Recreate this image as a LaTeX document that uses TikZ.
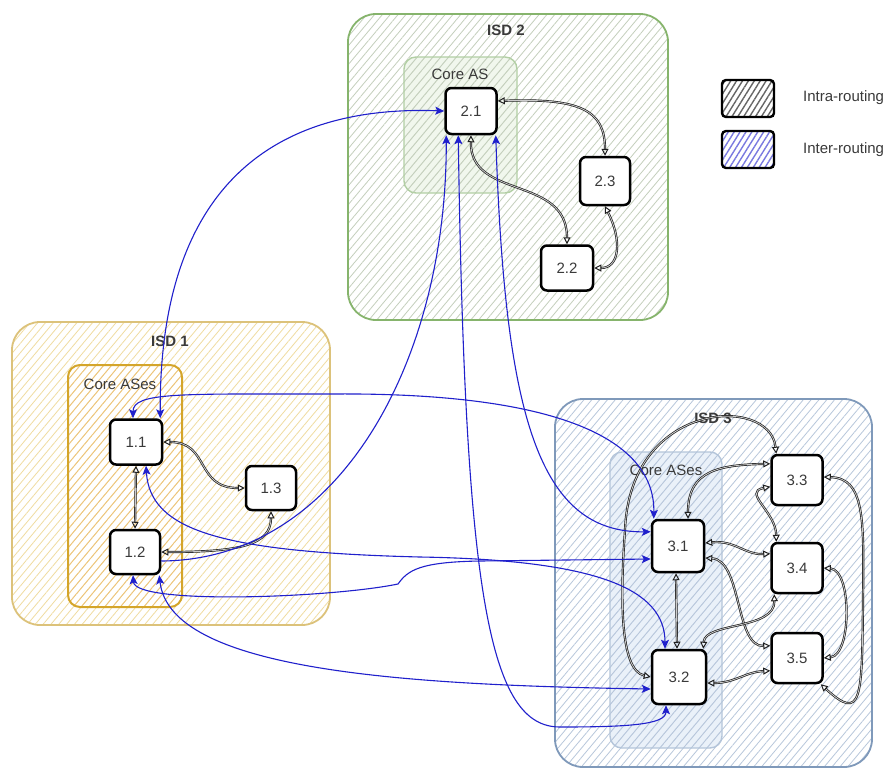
\documentclass[tikz,border=0pt]{standalone}
\usepackage{fontspec}
\setmainfont{Liberation Sans}
\usetikzlibrary{arrows.meta,patterns.meta}

\definecolor{intracol}{HTML}{1E1E1E}
\definecolor{intercol}{HTML}{2020CC}
\definecolor{labelgray}{HTML}{3A3A3A}
% ISD 1 (gold)
\definecolor{isdAline}{HTML}{DCC27A}
\definecolor{isdAhatch}{HTML}{F0DCA0}
\definecolor{coreAline}{HTML}{D4A52A}
\definecolor{coreAhatch}{HTML}{EEC47A}
% ISD 2 (green)
\definecolor{isdBline}{HTML}{86B46C}
\definecolor{isdBhatch}{HTML}{C4CFBC}
\definecolor{coreBline}{HTML}{B2CFA4}
\definecolor{coreBfill}{HTML}{E8F2E2}
% ISD 3 (blue)
\definecolor{isdCline}{HTML}{7F99BA}
\definecolor{isdChatch}{HTML}{B8C7DB}
\definecolor{coreCline}{HTML}{B4C5DA}
\definecolor{coreCfill}{HTML}{DDE8F6}

\tikzset{
  OT/.tip={Triangle[open,length=7pt,width=7pt,line width=1pt]},
  BT/.tip={Stealth[length=9pt,width=8pt,inset=2pt]},
  hatch/.style={pattern={Lines[angle=50,distance=6pt,line width=0.8pt]}},
  isdbox/.style={draw, line width=1.8pt, rounded corners=28pt, inner sep=0pt},
  corebox/.style={draw, line width=1.4pt, rounded corners=12pt, inner sep=0pt},
  asnode/.style={draw=black, line width=2.5pt, rounded corners=6pt, fill=white,
    text=labelgray, inner sep=0pt, minimum width=51pt, minimum height=46pt},
  isdtitle/.style={font=\fontsize{15}{18}\selectfont\bfseries, text=labelgray, inner sep=0pt},
  corelabel/.style={font=\fontsize{15}{18}\selectfont, text=labelgray, inner sep=0pt},
  legtext/.style={font=\fontsize{15}{18}\selectfont, text=labelgray, inner sep=0pt, anchor=west},
  legbox/.style={draw=black, line width=2.4pt, rounded corners=4pt, inner sep=0pt,
    minimum width=52pt, minimum height=37pt,
    pattern={Lines[angle=58,distance=5pt,line width=1.4pt]}},
  intra/.style={draw=intracol, line width=0.7pt, double=white!80!black,
    double distance=0.8pt, OT-OT},
  intrastraight/.style={intra},
  inter/.style={draw=intercol, line width=1.1pt, BT-BT},
  interone/.style={draw=intercol, line width=1.1pt, -BT},
}

\begin{document}
\begin{tikzpicture}[x=1pt,y=-1pt, font=\fontsize{15}{18}\selectfont]
\clip (0,0) rectangle (886,769);
\fill[white] (0,0) rectangle (886,769);

% ---------- isolation domains ----------
\node[isdbox, draw=isdBline, hatch, pattern color=isdBhatch,
      minimum width=320pt, minimum height=306pt] (isd2) at (508,167) {};
\node[corebox, draw=coreBline, preaction={fill=coreBfill, fill opacity=0.6},
      hatch, pattern color=isdBhatch,
      minimum width=113pt, minimum height=136pt] (core2) at (460.5,125) {};
\node[isdtitle] (isd2t) at (506,30) {ISD 2};
\node[corelabel] (core2t) at (460,74) {Core AS};

\node[isdbox, draw=isdAline, hatch, pattern color=isdAhatch,
      minimum width=318pt, minimum height=303pt] (isd1) at (171,473.5) {};
\node[corebox, draw=coreAline, line width=2pt, hatch, pattern color=coreAhatch,
      minimum width=114pt, minimum height=242pt] (core1) at (125,486) {};
\node[isdtitle] (isd1t) at (170,341) {ISD 1};
\node[corelabel] (core1t) at (120,384) {Core ASes};

\node[isdbox, draw=isdCline, hatch, pattern color=isdChatch,
      minimum width=317pt, minimum height=368pt] (isd3) at (713.5,583) {};
\node[corebox, draw=coreCline, preaction={fill=coreCfill, fill opacity=0.6},
      hatch, pattern color=isdChatch,
      minimum width=112pt, minimum height=296pt] (core3) at (666,600) {};
\node[isdtitle] (isd3t) at (713,418) {ISD 3};
\node[corelabel] (core3t) at (666,470) {Core ASes};

% ---------- legend ----------
\node[legbox, pattern color=black!60] (leg1) at (748,98.5) {};
\node[legtext] (leg1t) at (803,98) {Intra-routing};
\node[legbox, pattern color=intercol!60] (leg2) at (748,149.5) {};
\node[legtext] (leg2t) at (803,150) {Inter-routing};

% ---------- autonomous systems ----------
\node[asnode] (n21) at (471,111) {2.1};
\node[asnode, minimum width=50pt, minimum height=48pt] (n23) at (605,181) {2.3};
\node[asnode, minimum width=52pt, minimum height=45pt] (n22) at (567,268) {2.2};

\node[asnode, minimum width=52pt, minimum height=45pt] (n11) at (136,442) {1.1};
\node[asnode, minimum width=50pt, minimum height=44pt] (n13) at (271,488) {1.3};
\node[asnode, minimum width=50pt, minimum height=44pt] (n12) at (135,552) {1.2};

\node[asnode, minimum width=52pt, minimum height=52pt] (n31) at (678,546) {3.1};
\node[asnode, minimum width=54pt, minimum height=54pt] (n32) at (679,677) {3.2};
\node[asnode, minimum width=51pt, minimum height=50pt] (n33) at (797,480) {3.3};
\node[asnode, minimum width=51pt, minimum height=50pt] (n34) at (797,568) {3.4};
\node[asnode, minimum width=51pt, minimum height=50pt] (n35) at (797,658) {3.5};

% ---------- intra-ISD links ----------
\draw[intra] ([yshift=10pt]n21.east) .. controls (580,98) and (605,110) .. (n23.north);
\draw[intra] (n21.south) .. controls (470,200) and (567,175) .. (n22.north);
\draw[intra] (n23.south) .. controls (622,240) and (620,268) .. (n22.east);

\draw[intra] (n11.east) .. controls (210,442) and (195,488) .. (n13.west);
\draw[intra] (n11.south) -- (n12.north);
\draw[intra] (n12.east) .. controls (240,552) and (271,545) .. (n13.south);

\draw[intra] (n32.west) .. controls (620,670) and (620,600) .. (625,530)
             .. controls (630,400) and (770,395) .. ([xshift=6pt]n33.north west);
\draw[intra] ([xshift=10pt]n31.north) .. controls (688,470) and (720,465) .. ([yshift=-10pt]n33.north west);
\draw[intra] ([yshift=-33pt]n33.north west) .. controls (742,492) and (776,512) .. ([xshift=6pt]n34.north west);
\draw[intra] ([yshift=3pt]n31.east) .. controls (735,540) and (745,555) .. ([yshift=-12pt]n34.north west);
\draw[intra] ([yshift=-12pt]n31.east) .. controls (742,560) and (735,647) .. ([yshift=-14pt]n35.north west);
\draw[intra] ([xshift=-2pt]n31.south) -- ([xshift=-2pt]n32.north);
\draw[intra] ([xshift=-4pt]n32.north east) .. controls (705,622) and (775,630) .. ([xshift=4pt]n34.south west);
\draw[intra] ([yshift=-6pt]n32.east) .. controls (735,683) and (745,672) .. ([yshift=-39pt]n35.north west);
\draw[intra] ([yshift=3pt]n33.east) .. controls (865,478) and (864,520) .. (863,600)
             .. controls (862,700) and (862,722) .. ([xshift=-3pt]n35.south east);
\draw[intra] (n34.east) .. controls (852,570) and (852,655) .. (n35.east);

% ---------- inter-ISD links ----------
\draw[inter] (n21.west) .. controls (280,105) and (159,180) .. ([xshift=-3pt]n11.north east);
\draw[inter] ([xshift=-3pt]n11.north) .. controls (133,392) and (180,394) .. (330,394)
             .. controls (560,392) and (655,440) .. ([xshift=3pt]n31.north west);
\draw[interone] ([yshift=-9pt]n12.east) .. controls (340,560) and (447,360) .. ([xshift=2pt]n21.south west);
\draw[inter] ([xshift=10pt]n11.south) .. controls (150,530) and (220,552) .. (420,557)
             .. controls (600,560) and (665,590) .. ([xshift=-14pt]n32.north);
\draw[inter] ([xshift=-2pt]n12.south) .. controls (135,605) and (330,598) .. (398,584)
             .. controls (408,570) and (420,562) .. (480,561) -- ([yshift=-13pt]n31.west);
\draw[inter] ([xshift=-2pt]n12.south east) .. controls (170,670) and (400,685) .. ([yshift=-12pt]n32.west);
\draw[inter] ([xshift=14pt]n21.south west) .. controls (465,600) and (490,727) .. (560,727)
             .. controls (625,727) and (666,725) .. ([xshift=-13pt]n32.south);
\draw[inter] ([xshift=-2pt]n21.south east) .. controls (505,420) and (540,533) .. ([yshift=-13pt]n31.north west);

\end{tikzpicture}
\end{document}
